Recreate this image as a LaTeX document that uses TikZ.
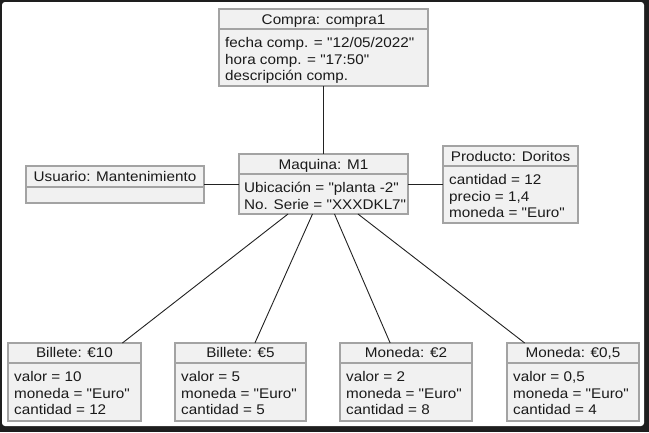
\documentclass[tikz,border=0pt]{standalone}
\usepackage{fontspec}
\usetikzlibrary{calc}
\newfontfamily\umlf{Liberation Sans}[FakeStretch=1.09]
\newcommand{\umlfont}{\umlf\fontsize{14pt}{16pt}\selectfont}
\definecolor{framec}{HTML}{1E1E1E}
\definecolor{boxfill}{HTML}{F1F1F1}
\definecolor{boxgray}{HTML}{A3A3A3}
\definecolor{txtc}{HTML}{1A1A1A}
\definecolor{linec}{HTML}{222222}
\tikzset{
  objbox/.style={rectangle, draw=boxgray, fill=boxfill, line width=1.5pt, inner sep=0pt, outer sep=0pt},
  divline/.style={draw=boxgray, line width=1.5pt},
  headtxt/.style={anchor=base, inner sep=0pt, text=txtc, font=\umlfont},
  bodytxt/.style={anchor=base west, inner sep=0pt, text=txtc, font=\umlfont},
  link/.style={draw=linec, line width=0.9pt},
}
% name, x1, y1, x2, y2, ydiv, header, header baseline
\newcommand{\objrect}[8]{%
  \node[objbox, minimum width={#4pt-#2pt}, minimum height={#5pt-#3pt}] (#1) at ({(#2+#4)/2},{(#3+#5)/2}) {};
  \draw[divline] (#2,#6) -- (#4,#6);
  \node[headtxt] (#1-h) at ({(#2+#4)/2},#8) {#7};
}
\begin{document}
\begin{tikzpicture}[x=1pt,y=-1pt]
\useasboundingbox (0,0) rectangle (649,432);
\fill[framec] (0,0) rectangle (649,432);
\fill[white, rounded corners=3pt] (2,2) rectangle (644,426);

% Compra
\objrect{cmp}{219}{9}{428}{86}{29}{Compra: compra1}{24}
\node[bodytxt] (cmp-1) at (225,47.5) {fecha comp. = "12/05/2022"};
\node[bodytxt] (cmp-2) at (225,64) {hora comp. = "17:50"};
\node[bodytxt] (cmp-3) at (225,80.5) {descripción comp.};

% Usuario
\objrect{usr}{26}{166}{204}{203}{187}{Usuario: Mantenimiento}{181.5}

% Maquina
\objrect{maq}{239}{154}{408}{214}{174}{Maquina: M1}{169}
\node[bodytxt] (maq-1) at (244,192.5) {Ubicación = "planta -2"};
\node[bodytxt] (maq-2) at (244,209) {No. Serie = "XXXDKL7"};

% Producto
\objrect{prd}{443}{146}{578}{223}{166}{Producto: Doritos}{161}
\node[bodytxt] (prd-1) at (449,184.5) {cantidad = 12};
\node[bodytxt] (prd-2) at (449,201) {precio = 1,4};
\node[bodytxt] (prd-3) at (449,217.5) {moneda = "Euro"};

% Bottom row
\objrect{b10}{8}{343}{141}{421}{363}{Billete: €10}{357.5}
\node[bodytxt] (b10-1) at (14,381.5) {valor = 10};
\node[bodytxt] (b10-2) at (14,398) {moneda = "Euro"};
\node[bodytxt] (b10-3) at (14,414.5) {cantidad = 12};

\objrect{b5}{175}{343}{306}{421}{363}{Billete: €5}{357.5}
\node[bodytxt] (b5-1) at (181,381.5) {valor = 5};
\node[bodytxt] (b5-2) at (181,398) {moneda = "Euro"};
\node[bodytxt] (b5-3) at (181,414.5) {cantidad = 5};

\objrect{m2}{340}{343}{472}{421}{363}{Moneda: €2}{357.5}
\node[bodytxt] (m2-1) at (346,381.5) {valor = 2};
\node[bodytxt] (m2-2) at (346,398) {moneda = "Euro"};
\node[bodytxt] (m2-3) at (346,414.5) {cantidad = 8};

\objrect{m05}{507}{343}{639}{421}{363}{Moneda: €0,5}{357.5}
\node[bodytxt] (m05-1) at (513,381.5) {valor = 0,5};
\node[bodytxt] (m05-2) at (513,398) {moneda = "Euro"};
\node[bodytxt] (m05-3) at (513,414.5) {cantidad = 4};

% Connectors
\draw[link] (cmp.south) -- (maq.north);
\draw[link] (usr.east) -- (usr.east -| maq.west);
\draw[link] (maq.east |- prd.west) -- (prd.west);
\draw[link] ($(maq.south west)!0.29!(maq.south east)$) -- ($(b10.north west)!0.86!(b10.north east)$);
\draw[link] ($(maq.south west)!0.435!(maq.south east)$) -- ($(b5.north west)!0.61!(b5.north east)$);
\draw[link] ($(maq.south west)!0.565!(maq.south east)$) -- ($(m2.north west)!0.38!(m2.north east)$);
\draw[link] ($(maq.south west)!0.704!(maq.south east)$) -- ($(m05.north west)!0.134!(m05.north east)$);
\end{tikzpicture}
\end{document}
